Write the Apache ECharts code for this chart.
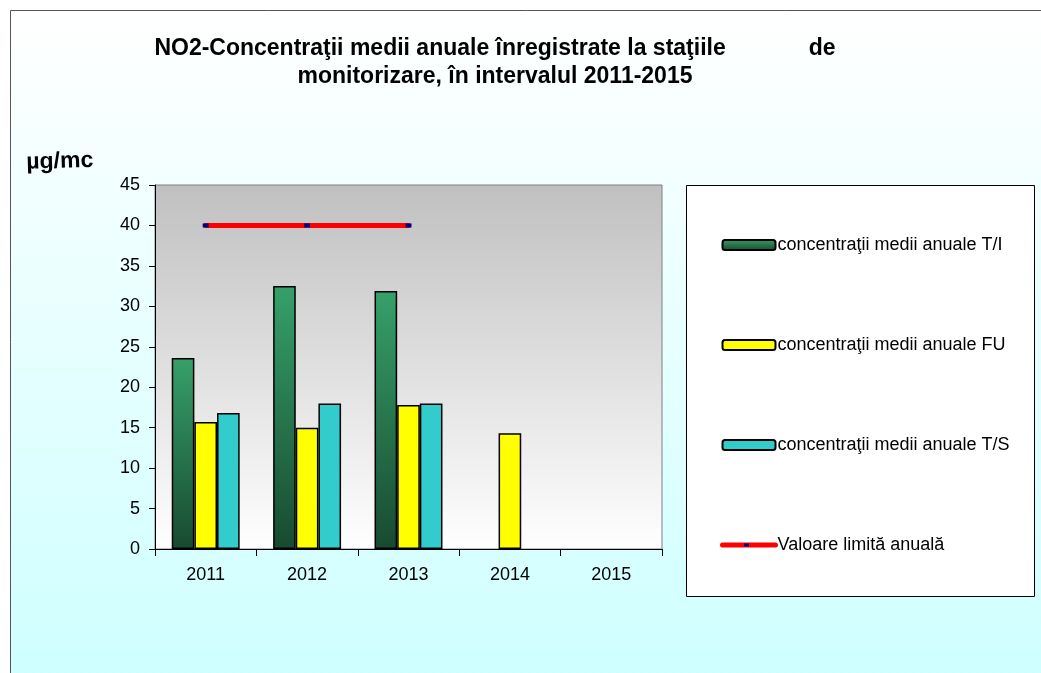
<!DOCTYPE html>
<html>
<head>
<meta charset="UTF-8"/>
<title>NO2</title>
<script src="https://cdn.jsdelivr.net/npm/echarts@6/dist/echarts.min.js"></script>
<style>
html,body{margin:0;padding:0;background:#fff;}
#chart{width:1041px;height:673px;}
</style>
</head>
<body>
<div id="chart"></div>
<script>
// date
var ani = ['2011', '2012', '2013', '2014', '2015'];
var valTI = [23.6, 32.5, 31.9, null, null];
var valFU = [15.7, 15.0, 17.8, 14.3, null];
var valTS = [16.8, 18.0, 18.0, null, null];
var valLimita = [40, 40, 40, null, null];
var yTicks = [0, 5, 10, 15, 20, 25, 30, 35, 40, 45];

var numeSerii = ['concentraţii medii anuale T/I', 'concentraţii medii anuale FU',
                 'concentraţii medii anuale T/S', 'Valoare limită anuală'];

var font = 'Arial, "Liberation Sans", sans-serif';
var myChart = echarts.init(document.getElementById('chart'));

var verde = new echarts.graphic.LinearGradient(0, 0, 0, 1, [
  {offset: 0, color: '#36a06a'},
  {offset: 1, color: '#184a30'}
]);

var option = {
  animation: false,
  textStyle: {fontFamily: font},
  graphic: [
    {
      type: 'rect', z: -10, silent: true,
      shape: {x: 10.5, y: 10.5, width: 1100, height: 700},
      style: {
        fill: new echarts.graphic.LinearGradient(0, 0, 0, 1, [
          {offset: 0, color: '#ffffff'},
          {offset: 1, color: '#ccffff'}
        ]),
        stroke: '#555', lineWidth: 1
      }
    },
    {
      type: 'rect', z: 0, silent: true,
      shape: {x: 686.5, y: 185.5, width: 348, height: 411},
      style: {fill: '#fff', stroke: '#000', lineWidth: 1}
    },
    {
      // punctul albastru din simbolul legendei pentru linie
      type: 'rect', z: 10, silent: true,
      shape: {x: 744, y: 543.5, width: 5, height: 3},
      style: {fill: '#000080'}
    },
    {
      type: 'text', left: 26, top: 149, rotation: 0.03,
      style: {text: 'µg/mc', font: 'bold 23px ' + font, fill: '#000'}
    }
  ],
  title: {
    text: 'NO2-Concentraţii medii anuale înregistrate la staţiile             de\nmonitorizare, în intervalul 2011-2015',
    left: 490,
    top: 30,
    textAlign: 'center',
    textStyle: {fontSize: 23, fontWeight: 'bold', color: '#000', lineHeight: 28, fontFamily: font}
  },
  legend: {
    data: [
      numeSerii[0], numeSerii[1], numeSerii[2],
      {name: numeSerii[3], lineStyle: {width: 5, cap: 'round'}, itemStyle: {opacity: 0}}
    ],
    orient: 'vertical',
    left: 715,
    top: 231,
    itemWidth: 53,
    itemHeight: 10,
    itemGap: 82,
    z: 5,
    textStyle: {fontSize: 18, color: '#000', padding: [0, 0, 0, -3]}
  },
  grid: {
    left: 155, top: 185, width: 507, height: 364,
    show: true,
    borderColor: '#808080',
    borderWidth: 1,
    backgroundColor: new echarts.graphic.LinearGradient(0, 0, 0, 1, [
      {offset: 0, color: '#c0c0c0'},
      {offset: 1, color: '#ffffff'}
    ])
  },
  xAxis: {
    type: 'category',
    data: ani,
    axisLine: {lineStyle: {color: '#000', width: 1}},
    axisTick: {show: true, length: 7, alignWithLabel: false, lineStyle: {color: '#000'}},
    axisLabel: {fontSize: 18, color: '#000', margin: 17},
    splitLine: {show: false}
  },
  yAxis: {
    type: 'value',
    min: yTicks[0],
    max: yTicks[yTicks.length - 1],
    interval: 5,
    axisLine: {show: true, lineStyle: {color: '#000', width: 1}},
    axisTick: {show: true, length: 6, lineStyle: {color: '#000'}},
    axisLabel: {fontSize: 18, color: '#000', margin: 15},
    splitLine: {show: false}
  },
  series: [
    {
      name: numeSerii[0], type: 'bar', data: valTI,
      barGap: '0%', barCategoryGap: '33%',
      itemStyle: {color: verde, borderColor: '#000', borderWidth: 1.5}
    },
    {
      name: numeSerii[1], type: 'bar', data: valFU,
      itemStyle: {color: '#ffff00', borderColor: '#000', borderWidth: 1.5}
    },
    {
      name: numeSerii[2], type: 'bar', data: valTS,
      itemStyle: {color: '#33cccc', borderColor: '#000', borderWidth: 1.5}
    },
    {
      name: numeSerii[3], type: 'line', data: valLimita,
      symbol: 'rect', symbolSize: [6, 4], showSymbol: true,
      itemStyle: {color: '#000080'},
      lineStyle: {color: '#ff0000', width: 5, cap: 'round'},
      z: 4
    }
  ]
};

myChart.setOption(option);
</script>
</body>
</html>
